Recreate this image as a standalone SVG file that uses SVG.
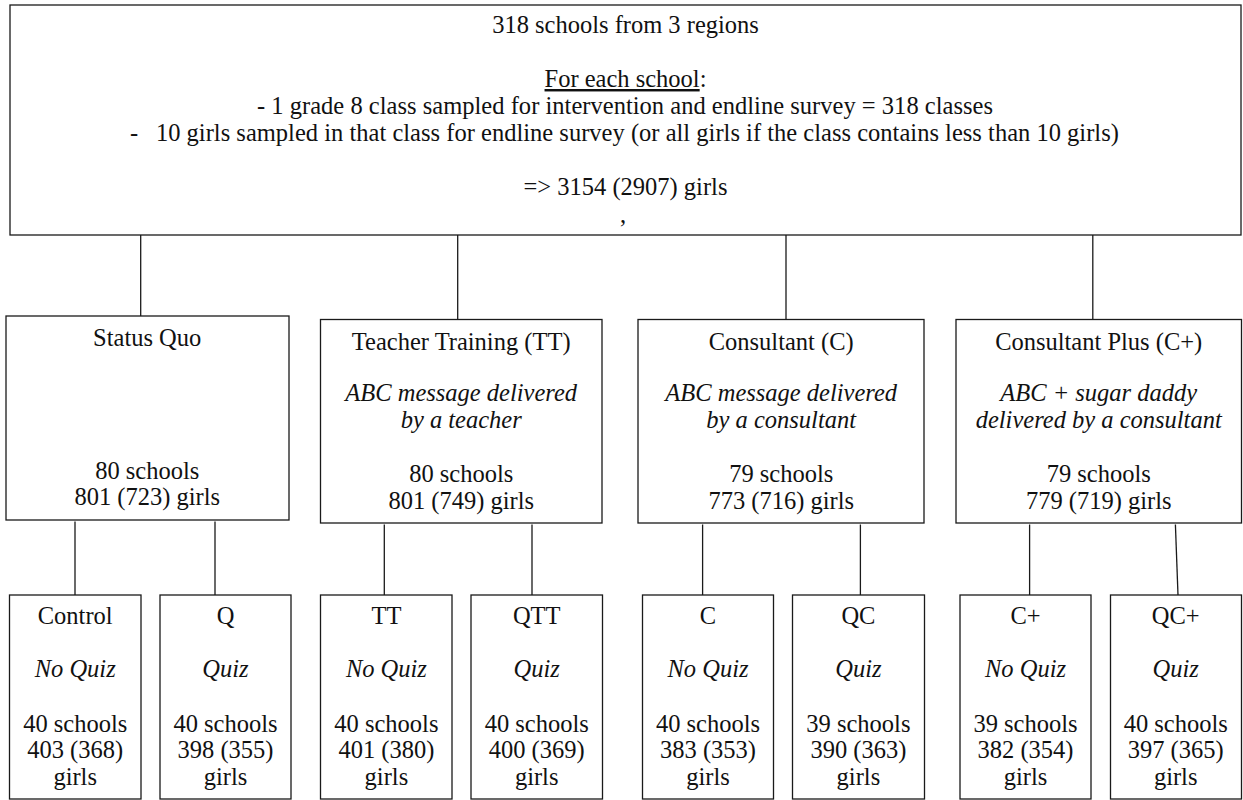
<svg xmlns="http://www.w3.org/2000/svg" width="1243" height="800" viewBox="0 0 1243 800">
<style>
.box{fill:#fff;stroke:#1a1a1a;stroke-width:1.3}
.ln{stroke:#1a1a1a;stroke-width:1.3;fill:none}
text{font-family:"Liberation Serif","DejaVu Serif",serif;font-size:24.5px;fill:#111;text-anchor:middle}
.it{font-style:italic}
.st{text-anchor:start}
</style>
<rect width="1243" height="800" fill="#fff"/>
<g id="connectors">
<line class="ln" x1="140.7" y1="235" x2="140.7" y2="316"/>
<line class="ln" x1="457.7" y1="235" x2="457.7" y2="319.5"/>
<line class="ln" x1="786" y1="235" x2="786" y2="319.5"/>
<line class="ln" x1="1092.8" y1="235" x2="1092.8" y2="319.5"/>
<line class="ln" x1="75" y1="521.5" x2="75" y2="595"/>
<line class="ln" x1="215" y1="521.5" x2="215" y2="595"/>
<line class="ln" x1="384.3" y1="524.5" x2="384.3" y2="595"/>
<line class="ln" x1="532" y1="524.5" x2="532" y2="596"/>
<line class="ln" x1="702.6" y1="524.5" x2="702.6" y2="595"/>
<line class="ln" x1="860.4" y1="524.5" x2="860.4" y2="595"/>
<line class="ln" x1="1029.6" y1="524.5" x2="1029.6" y2="595"/>
<line class="ln" x1="1175.4" y1="524.5" x2="1178" y2="595"/>
</g>
<g id="root">
<rect class="box" x="10" y="5" width="1231" height="230"/>
<text x="625.5" y="33">318 schools from 3 regions</text>
<text x="625.5" y="87"><tspan text-decoration="underline">For each school</tspan>:</text>
<text x="625" y="114" textLength="736" lengthAdjust="spacing">- 1 grade 8 class sampled for intervention and endline survey = 318 classes</text>
<text class="st" x="130" y="141">-</text>
<text x="637.4" y="141" textLength="963" lengthAdjust="spacing">10 girls sampled in that class for endline survey (or all girls if the class contains less than 10 girls)</text>
<text x="625.5" y="195">=&gt; 3154 (2907) girls</text>
<text x="623" y="223">,</text>
</g>
<g id="status-quo">
<rect class="box" x="6" y="316" width="283" height="204"/>
<text x="147.2" y="346">Status Quo</text>
<text x="147.2" y="479">80 schools</text>
<text x="147.2" y="505">801 (723) girls</text>
</g>
<g id="teacher-training">
<rect class="box" x="320.5" y="319.5" width="281.5" height="203.5"/>
<text x="461.2" y="350">Teacher Training (TT)</text>
<text class="it" x="461.2" y="401">ABC message delivered</text>
<text class="it" x="461.2" y="428">by a teacher</text>
<text x="461.2" y="482">80 schools</text>
<text x="461.2" y="509">801 (749) girls</text>
</g>
<g id="consultant">
<rect class="box" x="638" y="319.5" width="286" height="203.5"/>
<text x="781.2" y="350">Consultant (C)</text>
<text class="it" x="781.2" y="401">ABC message delivered</text>
<text class="it" x="781.2" y="428">by a consultant</text>
<text x="781.2" y="482">79 schools</text>
<text x="781.2" y="509">773 (716) girls</text>
</g>
<g id="consultant-plus">
<rect class="box" x="956" y="319.5" width="285.5" height="203.5"/>
<text x="1098.7" y="350">Consultant Plus (C+)</text>
<text class="it" x="1098.7" y="401">ABC + sugar daddy</text>
<text class="it" x="1098.7" y="428">delivered by a consultant</text>
<text x="1098.7" y="482">79 schools</text>
<text x="1098.7" y="509">779 (719) girls</text>
</g>
<g id="control">
<rect class="box" x="9.5" y="595" width="131.5" height="204"/>
<text x="75.2" y="624">Control</text>
<text class="it" x="75.2" y="677">No Quiz</text>
<text x="75.2" y="732">40 schools</text>
<text x="75.2" y="758">403 (368)</text>
<text x="75.2" y="785">girls</text>
</g>
<g id="q">
<rect class="box" x="160" y="595" width="131" height="204"/>
<text x="225.5" y="624">Q</text>
<text class="it" x="225.5" y="677">Quiz</text>
<text x="225.5" y="732">40 schools</text>
<text x="225.5" y="758">398 (355)</text>
<text x="225.5" y="785">girls</text>
</g>
<g id="tt">
<rect class="box" x="320.5" y="595" width="131.5" height="204"/>
<text x="386.4" y="624">TT</text>
<text class="it" x="386.4" y="677">No Quiz</text>
<text x="386.4" y="732">40 schools</text>
<text x="386.4" y="758">401 (380)</text>
<text x="386.4" y="785">girls</text>
</g>
<g id="qtt">
<rect class="box" x="471" y="595" width="131.5" height="204"/>
<text x="536.7" y="624">QTT</text>
<text class="it" x="536.7" y="677">Quiz</text>
<text x="536.7" y="732">40 schools</text>
<text x="536.7" y="758">400 (369)</text>
<text x="536.7" y="785">girls</text>
</g>
<g id="c">
<rect class="box" x="642.5" y="595" width="131" height="204"/>
<text x="708" y="624">C</text>
<text class="it" x="708" y="677">No Quiz</text>
<text x="708" y="732">40 schools</text>
<text x="708" y="758">383 (353)</text>
<text x="708" y="785">girls</text>
</g>
<g id="qc">
<rect class="box" x="792.5" y="595" width="132" height="204"/>
<text x="858.4" y="624">QC</text>
<text class="it" x="858.4" y="677">Quiz</text>
<text x="858.4" y="732">39 schools</text>
<text x="858.4" y="758">390 (363)</text>
<text x="858.4" y="785">girls</text>
</g>
<g id="cplus">
<rect class="box" x="960" y="595" width="131" height="204"/>
<text x="1025.5" y="624">C+</text>
<text class="it" x="1025.5" y="677">No Quiz</text>
<text x="1025.5" y="732">39 schools</text>
<text x="1025.5" y="758">382 (354)</text>
<text x="1025.5" y="785">girls</text>
</g>
<g id="qcplus">
<rect class="box" x="1110.5" y="595" width="131" height="204"/>
<text x="1175.7" y="624">QC+</text>
<text class="it" x="1175.7" y="677">Quiz</text>
<text x="1175.7" y="732">40 schools</text>
<text x="1175.7" y="758">397 (365)</text>
<text x="1175.7" y="785">girls</text>
</g>
</svg>
